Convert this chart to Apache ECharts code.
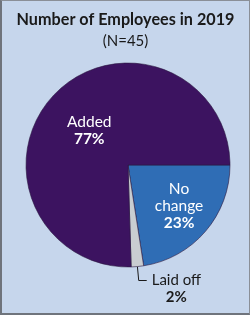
<!DOCTYPE html>
<html>
<head>
<meta charset="utf-8">
<script src="https://cdn.jsdelivr.net/npm/echarts@6/dist/echarts.min.js"></script>
<style>
html,body{margin:0;padding:0;background:#c6d6ec;}
#wrap{width:250px;height:315px;box-sizing:border-box;border:1px solid #8a8f97;border-left:2px solid #6f747c;border-bottom:2px solid #6f747c;}
#chart{width:100%;height:100%;}
</style>
</head>
<body>
<div id="wrap"><div id="chart"></div></div>
<script>
const titleText = 'Number of Employees in 2019';
const subtitleText = '(N=45)';
const categories = ['No change', 'Laid off', 'Added'];
const labelNames = ['No\nchange', 'Laid off', 'Added'];
const percents = [23, 2, 77];
const colors = ['#2f6db5', '#c9cdd1', '#3c1360'];

const chart = echarts.init(document.getElementById('chart'), null, {renderer: 'canvas'});
const font = 'Lato';

const data = categories.map((c, i) => {
  const d = {name: c, value: percents[i], itemStyle: {color: colors[i]}};
  if (c === 'Laid off') {
    d.label = {
      position: 'outside',
      color: '#1a1a1a',
      padding: [17, 0, 0, 0],
      formatter: p => '{n|' + labelNames[i] + '}\n{v|' + p.value + '%}',
      rich: {
        n: {fontFamily: font, fontSize: 15, color: '#1a1a1a', lineHeight: 17, align: 'center'},
        v: {fontFamily: font, fontSize: 15, fontWeight: 'bold', color: '#1a1a1a', lineHeight: 17, align: 'center'}
      }
    };
    d.labelLine = {show: true, length: 14, length2: 8, smooth: false, lineStyle: {color: '#1a1a1a', width: 1}};
  } else {
    d.label = {
      position: 'inside',
      offset: c === 'Added' ? [0, 3] : [10, 6],
      formatter: p => labelNames[i].split('\n').map(s => '{n|' + s + '}').join('\n') + '\n{v|' + p.value + '%}',
      rich: {
        n: {fontFamily: font, fontSize: 15.5, color: '#ffffff', lineHeight: 17, align: 'center'},
        v: {fontFamily: font, fontSize: 15.5, fontWeight: 'bold', color: '#ffffff', lineHeight: 17, align: 'center'}
      }
    };
    d.labelLine = {show: false};
  }
  return d;
});

chart.setOption({
  backgroundColor: '#c6d6ec',
  animation: false,
  title: [
    {text: titleText, left: 'center', top: 6, textStyle: {fontFamily: font, fontSize: 16.2, fontWeight: 'bold', color: '#1a1a1a'}},
    {text: subtitleText, left: 'center', top: 28, textStyle: {fontFamily: font, fontSize: 15, fontWeight: 'normal', color: '#1a1a1a'}}
  ],
  series: [{
    type: 'pie',
    center: [126, 164],
    radius: [0, 102],
    startAngle: 0,
    clockwise: true,
    avoidLabelOverlap: false,
    itemStyle: {borderColor: '#2a1840', borderWidth: 0.6},
    emphasis: {disabled: true},
    label: {show: true},
    data: data
  }]
});
</script>
</body>
</html>
